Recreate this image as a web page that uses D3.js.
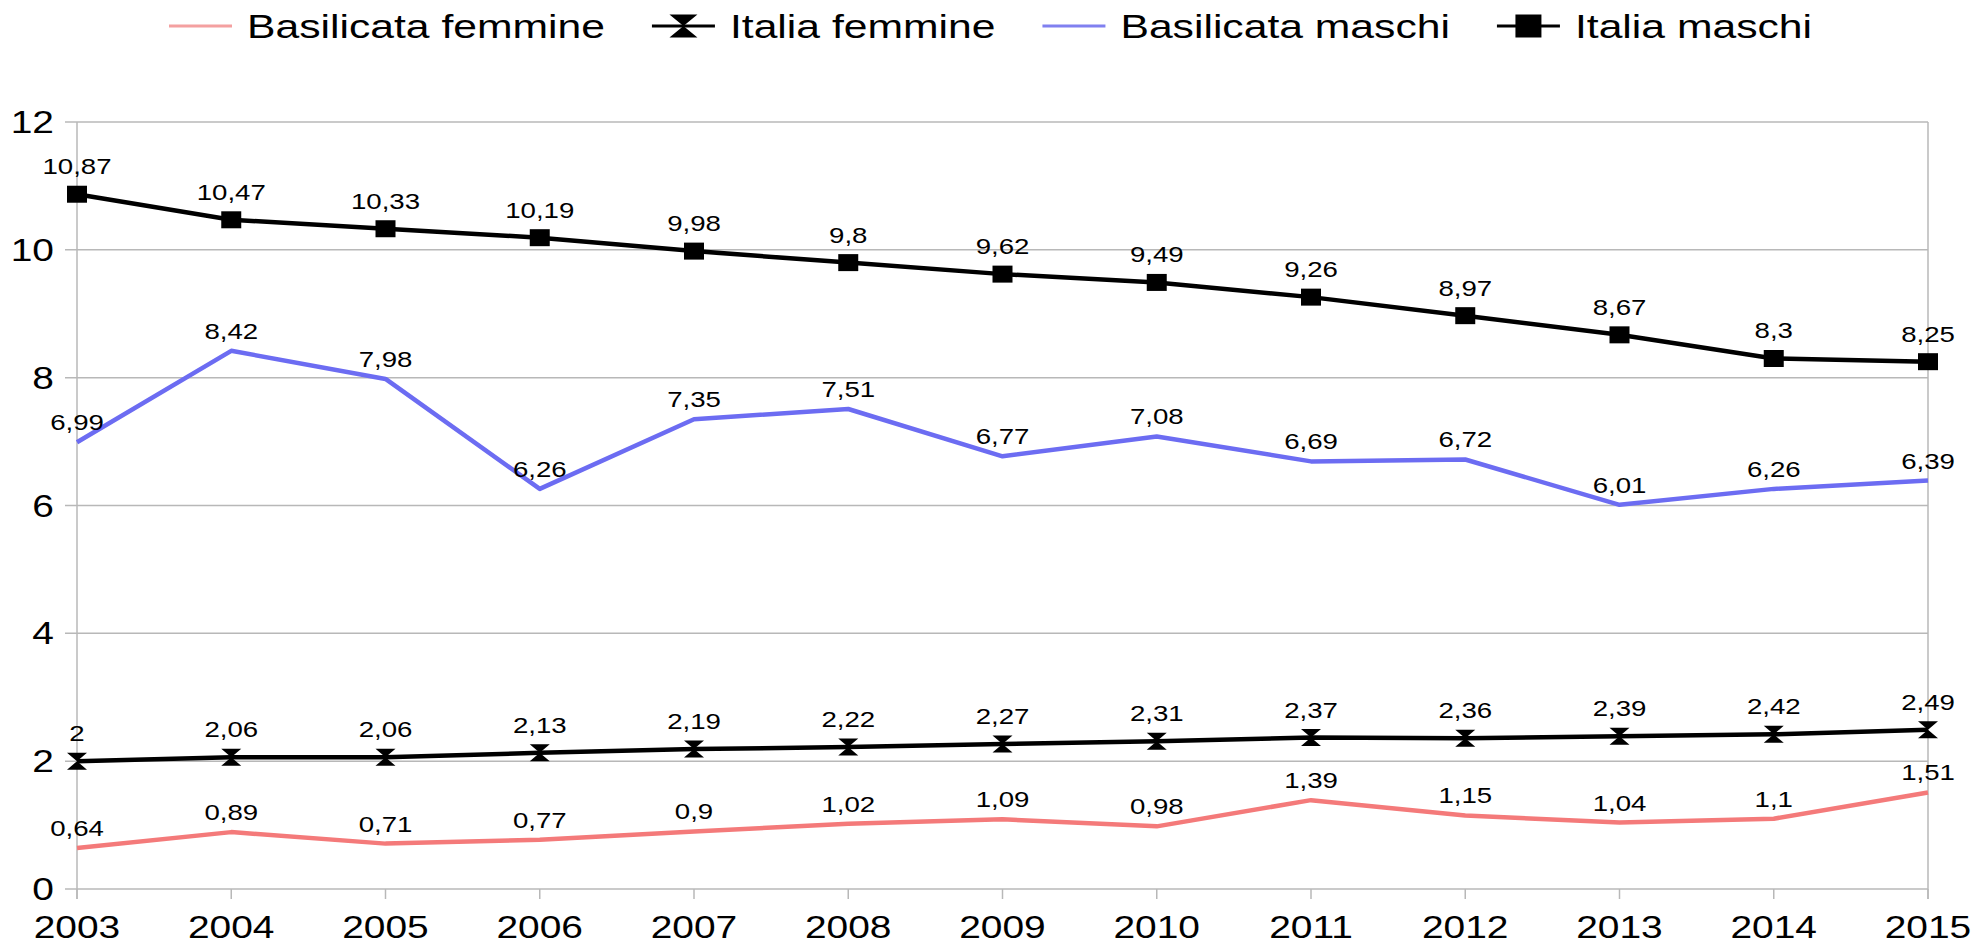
<!DOCTYPE html>
<meta charset="utf-8">
<style>
  body { margin: 0; background: #fff; }
  text { font-family: "Liberation Sans", Arial, sans-serif; fill: #000; }
</style>
<svg width="1987" height="945"></svg>
<script src="https://cdn.jsdelivr.net/npm/d3@7"></script>
<script>

var years = [2003, 2004, 2005, 2006, 2007, 2008, 2009, 2010, 2011, 2012, 2013, 2014, 2015];
var basilicataFemmine = [0.64, 0.89, 0.71, 0.77, 0.9, 1.02, 1.09, 0.98, 1.39, 1.15, 1.04, 1.1, 1.51];
var italiaFemmine = [2, 2.06, 2.06, 2.13, 2.19, 2.22, 2.27, 2.31, 2.37, 2.36, 2.39, 2.42, 2.49];
var basilicataMaschi = [6.99, 8.42, 7.98, 6.26, 7.35, 7.51, 6.77, 7.08, 6.69, 6.72, 6.01, 6.26, 6.39];
var italiaMaschi = [10.87, 10.47, 10.33, 10.19, 9.98, 9.8, 9.62, 9.49, 9.26, 8.97, 8.67, 8.3, 8.25];
var yTicks = [0, 2, 4, 6, 8, 10, 12];

var series = [
  {name: "Basilicata femmine", values: basilicataFemmine, color: "#f47a7a", legendColor: "#f4a0a0", marker: null},
  {name: "Italia femmine", values: italiaFemmine, color: "#000", legendColor: "#000", marker: "bowtie"},
  {name: "Basilicata maschi", values: basilicataMaschi, color: "#6c6cf2", legendColor: "#8080f0", marker: null},
  {name: "Italia maschi", values: italiaMaschi, color: "#000", legendColor: "#000", marker: "square"}
];

var stretch = 1.255;   // text in the reference is widened horizontally
var svg = d3.select("svg");

var x = d3.scalePoint().domain(years).range([77, 1928]);
var y = d3.scaleLinear().domain([0, 12]).range([889, 122]);

function fmt(v) { return String(v).replace(".", ","); }

function wideText(sel, px, py) {
  sel.attr("transform", "translate(" + px + "," + py + ") scale(" + stretch + ",1)");
}

// gridlines
svg.append("g").selectAll("line")
  .data(yTicks)
  .join("line")
    .attr("x1", x(2003) - 12).attr("x2", x(2015))
    .attr("y1", d => y(d)).attr("y2", d => y(d))
    .attr("stroke", "#b8b8b8").attr("stroke-width", 1.5);

// frame verticals
svg.append("g").selectAll("line")
  .data([2003, 2015])
  .join("line")
    .attr("x1", d => x(d)).attr("x2", d => x(d))
    .attr("y1", y(12)).attr("y2", y(0) + 10)
    .attr("stroke", "#b8b8b8").attr("stroke-width", 1.5);

// x ticks
svg.append("g").selectAll("line")
  .data(years)
  .join("line")
    .attr("x1", d => x(d)).attr("x2", d => x(d))
    .attr("y1", y(0)).attr("y2", y(0) + 10)
    .attr("stroke", "#b8b8b8").attr("stroke-width", 1.5);

// y labels
svg.append("g").selectAll("text")
  .data(yTicks)
  .join("text")
    .attr("text-anchor", "end")
    .style("font-size", "31px")
    .text(d => d)
    .each(function(d) { wideText(d3.select(this), x(2003) - 23, y(d) + 11); });

// x labels
svg.append("g").selectAll("text")
  .data(years)
  .join("text")
    .attr("text-anchor", "middle")
    .style("font-size", "31px")
    .text(d => d)
    .each(function(d) { wideText(d3.select(this), x(d), 938); });

var line = d3.line().x((d, i) => x(years[i])).y(d => y(d));

series.forEach(function(s) {
  var g = svg.append("g");
  g.append("path")
    .attr("d", line(s.values))
    .attr("fill", "none")
    .attr("stroke", s.color)
    .attr("stroke-width", 4.5)
    .attr("stroke-linejoin", "round");

  if (s.marker) {
    g.selectAll("path.m")
      .data(s.values)
      .join("path")
        .attr("class", "m")
        .attr("d", (d, i) => markerPath(s.marker, x(years[i]), y(d), 20, 17))
        .attr("fill", "#000");
  }

  var off = s.marker ? 20 : 12;
  g.selectAll("text")
    .data(s.values)
    .join("text")
      .attr("text-anchor", "middle")
      .style("font-size", "22px")
      .text(d => fmt(d))
      .each(function(d, i) { wideText(d3.select(this), x(years[i]), y(d) - off); });
});

function markerPath(type, cx, cy, w, h) {
  var p = d3.path();
  if (type === "square") {
    p.rect(cx - w / 2, cy - h / 2, w, h);
  } else {
    p.moveTo(cx - w / 2, cy - h / 2);
    p.lineTo(cx + w / 2, cy - h / 2);
    p.lineTo(cx, cy);
    p.lineTo(cx + w / 2, cy + h / 2);
    p.lineTo(cx - w / 2, cy + h / 2);
    p.lineTo(cx, cy);
    p.closePath();
  }
  return p.toString();
}

// legend
var lx = 169, ly = 26;
var legend = svg.append("g");
series.forEach(function(s) {
  var it = legend.append("g");
  it.append("line")
    .attr("x1", lx).attr("x2", lx + 63)
    .attr("y1", ly).attr("y2", ly)
    .attr("stroke", s.legendColor).attr("stroke-width", 3);
  if (s.marker) {
    it.append("path")
      .attr("d", markerPath(s.marker, lx + 31.5, ly, s.marker === "square" ? 26 : 28, 23))
      .attr("fill", "#000");
  }
  var t = it.append("text")
    .style("font-size", "34px")
    .text(s.name);
  wideText(t, lx + 78, 38);
  lx += 78 + t.node().getComputedTextLength() * stretch + 47;
});

</script>
